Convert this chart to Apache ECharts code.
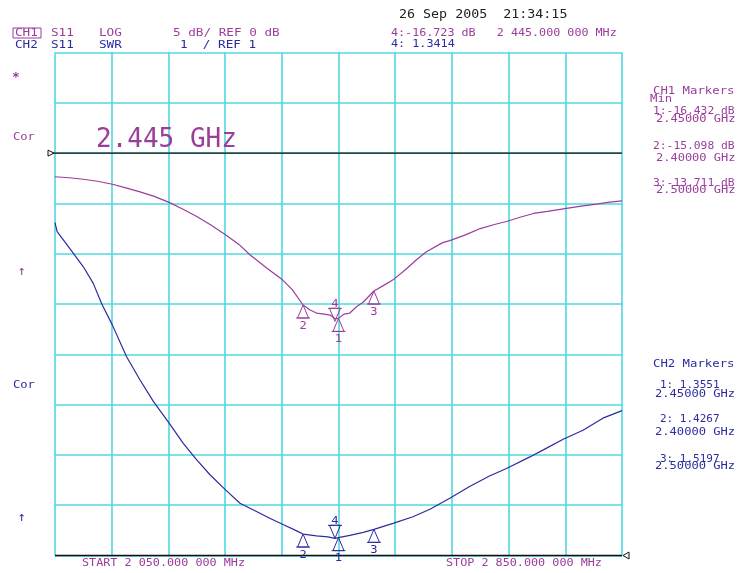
<!DOCTYPE html>
<html><head><meta charset="utf-8">
<script src="https://cdn.jsdelivr.net/npm/echarts@6/dist/echarts.min.js"></script>
<style>html,body{margin:0;padding:0;background:#fff}#c{width:737px;height:573px}</style>
</head><body><div id="c"></div>
<script>
// ---- data (MHz, dB / SWR) ----
const START_MHZ = 2050, STOP_MHZ = 2850, SPAN_DIV = 80;
const ch1Freq = [2050,2070,2090,2110,2131,2150,2170,2190,2211,2230,2250,2270,2291,2310,2325,2350,2371,2385,2400,2410,2419,2430,2438,2445,2450,2458,2466,2475,2485,2500,2515,2527,2546,2560,2574,2597,2607,2630,2650,2670,2687,2705,2725,2745,2767,2790,2814,2830,2850];
const ch1Db   = [-2.35,-2.45,-2.6,-2.8,-3.1,-3.45,-3.85,-4.3,-4.9,-5.55,-6.3,-7.15,-8.15,-9.1,-10.1,-11.5,-12.6,-13.6,-15.1,-15.6,-15.9,-16.0,-16.1,-16.45,-16.43,-16.0,-15.9,-15.3,-14.8,-13.71,-13.1,-12.6,-11.5,-10.6,-9.8,-8.9,-8.7,-8.1,-7.5,-7.1,-6.8,-6.4,-6.0,-5.8,-5.55,-5.3,-5.07,-4.9,-4.74];
const ch2Freq = [2050,2053,2071,2090,2104,2116,2131,2151,2170,2189,2211,2231,2250,2269,2291,2311,2335,2353,2371,2391,2400,2419,2435,2445,2450,2466,2485,2500,2527,2555,2579,2607,2635,2663,2687,2720,2739,2767,2795,2823,2850];
const ch2Swr  = [7.62,7.44,7.1,6.74,6.41,6.0,5.58,4.95,4.49,4.06,3.63,3.23,2.9,2.6,2.3,2.04,1.87,1.74,1.62,1.49,1.4267,1.39,1.37,1.3414,1.3551,1.40,1.46,1.5197,1.64,1.77,1.92,2.14,2.37,2.58,2.73,2.96,3.1,3.31,3.49,3.73,3.88];
const markerIds  = [1, 2, 3, 4];
const markerFreq = [2450, 2400, 2500, 2445];
const ch1Marker  = [-16.432, -15.098, -13.711, -16.723];
const ch2Marker  = [1.3551, 1.4267, 1.5197, 1.3414];
const ch1Ref = 0, ch2Ref = 1;

const PURPLE = '#9b3d9b', BLUE = '#2c2ca0', CYAN = '#4fd8e2';
const MONO = '"DejaVu Sans Mono", "Liberation Mono", monospace';

const toXY = (f, v) => f.map((q, i) => [q - START_MHZ, v[i]]);
const mk = (vals) => markerIds.map((id, i) => [markerFreq[i] - START_MHZ, vals[i], id]);

function markerRender(color) {
  return function (params, api) {
    const id = api.value(2);
    const p = api.coord([api.value(0), api.value(1)]);
    const x = p[0], y = p[1];
    const down = id === 4;
    const s = down ? -1 : 1;
    const h = 13, w = 5.5;
    return { type: 'group', children: [
      { type: 'polygon', shape: { points: [[x, y], [x - w, y + s * h], [x + w, y + s * h]] },
        style: { fill: 'none', stroke: color, lineWidth: 1 } },
      { type: 'line', shape: { x1: x - w - 1.5, y1: y + s * h, x2: x + w + 1.5, y2: y + s * h },
        style: { stroke: color, lineWidth: 1 } },
      { type: 'text', x: x, y: y + s * (down ? 17 : 21), scaleX: 1.1,
        style: { text: String(id), fill: color, font: '11px ' + MONO, align: 'center', verticalAlign: 'middle', textAlign: 'center', textVerticalAlign: 'middle' } }
    ]};
  };
}

function refRender(side) {
  return function (params, api) {
    const v = api.value(1);
    const a = api.coord([0, v]), b = api.coord([STOP_MHZ - START_MHZ, v]);
    const y = a[1];
    const ch = [];
    if (side === 'left') {
      ch.push({ type: 'line', shape: { x1: a[0] - 7, y1: y, x2: b[0], y2: y }, style: { stroke: '#111', lineWidth: 1.3 } });
      ch.push({ type: 'polygon', shape: { points: [[a[0] - 7, y - 3], [a[0] - 7, y + 3], [a[0] - 1, y]] }, style: { fill: '#fff', stroke: '#111', lineWidth: 1 } });
    } else {
      ch.push({ type: 'line', shape: { x1: a[0], y1: y, x2: b[0], y2: y }, style: { stroke: '#111', lineWidth: 1.3 } });
      ch.push({ type: 'polygon', shape: { points: [[b[0] + 7, y - 3.5], [b[0] + 7, y + 3.5], [b[0] + 1, y]] }, style: { fill: '#fff', stroke: '#111', lineWidth: 1 } });
    }
    return { type: 'group', children: ch };
  };
}

function T(text, x, y, color, size, sx, weight) {
  return { type: 'text', x: x, y: y, scaleX: sx || 1.13, silent: true, z: 10,
    style: { text: text, fill: color, font: (weight || 'normal') + ' ' + size + 'px ' + MONO,
      align: 'left', verticalAlign: 'middle', textAlign: 'left', textVerticalAlign: 'middle' } };
}

const chart = echarts.init(document.getElementById('c'), null, { renderer: 'canvas' });
chart.setOption({
  animation: false,
  backgroundColor: '#fff',
  grid: { left: 55, right: 115, top: 52.5, bottom: 17.5, containLabel: false, outerBoundsMode: 'none' },
  xAxis: { type: 'value', min: 0, max: STOP_MHZ - START_MHZ, interval: SPAN_DIV,
    axisLine: { show: false }, axisTick: { show: false }, axisLabel: { show: false },
    splitLine: { show: true, lineStyle: { color: CYAN, width: 1.6 } } },
  yAxis: [
    { type: 'value', min: -40, max: 10, interval: 5,
      axisLine: { show: false }, axisTick: { show: false }, axisLabel: { show: false },
      splitLine: { show: true, lineStyle: { color: CYAN, width: 1.6 } } },
    { type: 'value', min: 1, max: 11, interval: 1,
      axisLine: { show: false }, axisTick: { show: false }, axisLabel: { show: false },
      splitLine: { show: false } }
  ],
  series: [
    { type: 'line', name: 'CH1', data: toXY(ch1Freq, ch1Db), yAxisIndex: 0, symbol: 'none', z: 3,
      lineStyle: { color: PURPLE, width: 1.2 }, itemStyle: { color: PURPLE } },
    { type: 'line', name: 'CH2', data: toXY(ch2Freq, ch2Swr), yAxisIndex: 1, symbol: 'none', z: 3,
      lineStyle: { color: BLUE, width: 1.2 }, itemStyle: { color: BLUE } },
    { type: 'custom', data: [[0, ch1Ref]], yAxisIndex: 0, renderItem: refRender('left'), z: 4, encode: { x: 0, y: 1 } },
    { type: 'custom', data: [[0, ch2Ref]], yAxisIndex: 1, renderItem: refRender('right'), z: 4, encode: { x: 0, y: 1 } },
    { type: 'custom', data: mk(ch1Marker), yAxisIndex: 0, renderItem: markerRender(PURPLE), z: 5, encode: { x: 0, y: 1 } },
    { type: 'custom', data: mk(ch2Marker), yAxisIndex: 1, renderItem: markerRender(BLUE), z: 5, encode: { x: 0, y: 1 } }
  ],
  graphic: [
    { type: 'rect', shape: { x: 13, y: 28, width: 28, height: 10 }, style: { fill: 'none', stroke: PURPLE, lineWidth: 1 }, z: 10 },
    T('CH1', 15, 33, PURPLE, 11, 1.15),
    T('S11', 51, 33, PURPLE, 11, 1.15),
    T('LOG', 99, 33, PURPLE, 11, 1.15),
    T('5 dB/ REF 0 dB', 173, 33, PURPLE, 11, 1.15),
    T('CH2', 15, 45, BLUE, 11, 1.15),
    T('S11', 51, 45, BLUE, 11, 1.15),
    T('SWR', 99, 45, BLUE, 11, 1.15),
    T('1  / REF 1', 180, 45, BLUE, 11, 1.15),
    T('26 Sep 2005  21:34:15', 399, 15, '#222', 12, 1.11),
    T('4:-16.723 dB   2 445.000 000 MHz', 391, 33, PURPLE, 11, 1.065),
    T('4: 1.3414', 391, 44, BLUE, 11, 1.07),
    T('CH1 Markers', 653, 91, PURPLE, 10, 1.23),
    T('Min', 650, 99.5, PURPLE, 10, 1.23),
    T('1:-16.432 dB', 653, 111.5, PURPLE, 10, 1.13),
    T('2.45000 GHz', 656, 119.5, PURPLE, 10, 1.2),
    T('2:-15.098 dB', 653, 146, PURPLE, 10, 1.13),
    T('2.40000 GHz', 656, 158, PURPLE, 10, 1.2),
    T('3:-13.711 dB', 653, 183, PURPLE, 10, 1.13),
    T('2.50000 GHz', 656, 190, PURPLE, 10, 1.2),
    T('CH2 Markers', 653, 364, BLUE, 10, 1.23),
    T('1: 1.3551', 660, 385.5, BLUE, 10, 1.1),
    T('2.45000 GHz', 655, 394.5, BLUE, 10, 1.21),
    T('2: 1.4267', 660, 419, BLUE, 10, 1.1),
    T('2.40000 GHz', 655, 432, BLUE, 10, 1.21),
    T('3: 1.5197', 660, 459, BLUE, 10, 1.1),
    T('2.50000 GHz', 655, 466, BLUE, 10, 1.21),
    T('START 2 050.000 000 MHz', 82, 563, PURPLE, 11, 1.07),
    T('STOP 2 850.000 000 MHz', 446, 563, PURPLE, 11, 1.07),
    T('*', 12, 78, PURPLE, 13, 1.0, 'bold'),
    T('Cor', 13, 137.5, PURPLE, 11, 1.1),
    T('\u2191', 18, 272, PURPLE, 13, 1.0),
    T('Cor', 13, 385, BLUE, 11, 1.1),
    T('\u2191', 18, 518, BLUE, 13, 1.0),
    T('2.445 GHz', 96, 140, PURPLE, 26, 1.0, 'lighter')
  ]
});
</script>
</body></html>
